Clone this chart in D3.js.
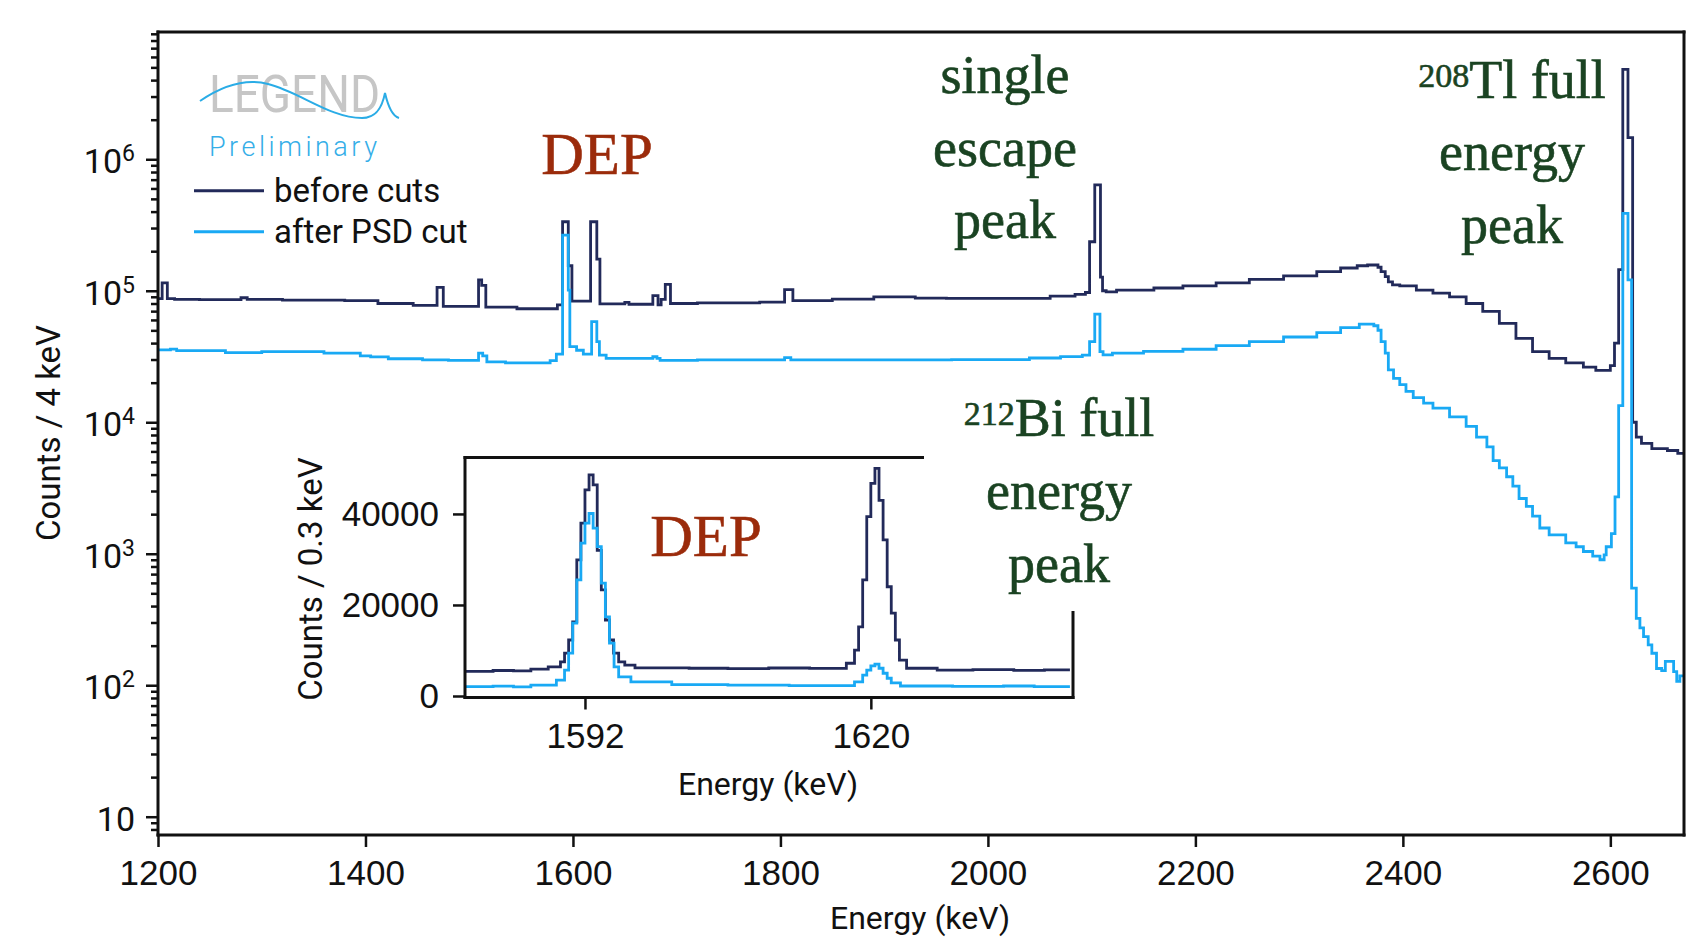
<!DOCTYPE html>
<html>
<head>
<meta charset="utf-8">
<script src="https://cdn.jsdelivr.net/npm/d3@7"></script>
<style>
  body { margin: 0; background: #fff; }
  svg { display: block; font-family: Roboto, "Noto Sans", sans-serif; }
  .serif { font-family: "Liberation Serif", "DejaVu Serif", serif; }
</style>
</head>
<body>
<svg id="chart" width="1688" height="937"></svg>
<script>
// ---- data ----
// main spectrum, counts / 4 keV, [bin start (keV), counts]
const beforeCuts = [
  [1200, 87000], [1204, 115000], [1209, 87000], [1216, 86000], [1240, 85500], [1280, 88500],
  [1286, 86000], [1320, 85000], [1380, 84000], [1412, 80000], [1446, 77500], [1469, 106000],
  [1475, 76000], [1509, 121000], [1512, 110000], [1516, 75000], [1546, 73000], [1585, 78000],
  [1590, 335000], [1595.5, 155000], [1599, 83500], [1617, 335000], [1623, 174000], [1626, 79500],
  [1650, 81500], [1654, 79000], [1677, 92000], [1682, 78000], [1685, 86000], [1689, 112000],
  [1694, 80000], [1720, 81000], [1780, 82000], [1804, 102000], [1812, 84000], [1850, 86500],
  [1890, 90000], [1930, 88000], [1960, 87500], [2060, 91000], [2084, 94000], [2094, 97000],
  [2098, 236000], [2103, 638000], [2108.5, 127000], [2110.5, 100000], [2114, 98000], [2124, 101000],
  [2160, 105000], [2188, 109000], [2220, 115000], [2252, 122000], [2285, 130000], [2317, 140000],
  [2340, 149000], [2356, 155000], [2366, 157000], [2376, 151000], [2379, 140000], [2383, 128000],
  [2386, 117000], [2390, 111000], [2397, 109000], [2413, 101000], [2429, 96000], [2445, 90000],
  [2461, 80000], [2477, 69600], [2493, 56500], [2509, 43500], [2525, 34400], [2541, 30600],
  [2557, 28300], [2574, 26300], [2586, 24800], [2600, 27000], [2604, 40000], [2608, 145000],
  [2612, 4830000], [2617, 1460000], [2621.5, 10000], [2625, 7700], [2630, 6900], [2640, 6300],
  [2655, 6100], [2665, 5800]
];
const afterPSD = [
  [1200, 35500], [1212, 36000], [1218, 35000], [1265, 33900], [1300, 34500], [1360, 33600],
  [1395, 32000], [1405, 31400], [1422, 30400], [1455, 29800], [1480, 29600], [1509, 33600],
  [1513, 32000], [1517, 28800], [1535, 28300], [1578, 29400], [1584, 33000], [1590, 265000],
  [1595.5, 101000], [1597, 37600], [1603.5, 35300], [1610, 33000], [1618, 58200], [1623, 41000],
  [1625.5, 32400], [1632, 30600], [1677, 31500], [1681, 30600], [1684, 29600], [1720, 29800],
  [1804, 31000], [1810, 29800], [1900, 29800], [1965, 29900], [2040, 30800], [2070, 31600],
  [2091, 32400], [2098, 41000], [2103, 66500], [2108, 34500], [2111, 32500], [2120, 33500],
  [2150, 34600], [2188, 35900], [2220, 38300], [2252, 41000], [2285, 44500], [2317, 48000],
  [2340, 52400], [2358, 55800], [2372, 54200], [2376, 50100], [2379, 41000], [2383, 33500],
  [2386, 25000], [2391, 21600], [2397, 19300], [2403, 17200], [2410, 15400], [2420, 14000],
  [2429, 12800], [2445, 11000], [2461, 9300], [2471, 7700], [2481, 6500], [2487, 5100],
  [2493, 4500], [2500, 3850], [2506, 3270], [2512, 2630], [2519, 2290], [2525, 1930],
  [2532, 1570], [2541, 1390], [2557, 1210], [2567, 1130], [2574, 1040], [2583, 960],
  [2590, 900], [2594, 980], [2596, 1130], [2601, 1420], [2604.5, 2710], [2608, 13400],
  [2612, 388000], [2617, 121000], [2620.5, 547], [2625, 323], [2628.5, 273], [2632, 234],
  [2636.5, 203], [2640, 175], [2644.5, 134], [2649.5, 129], [2653, 152], [2661, 127],
  [2664, 107], [2667, 118]
];
const mainEnd = 2671;

// inset, counts / 0.3 keV around the DEP and the 212Bi line
const insetBefore = [
  [1580.25, 5400], [1583, 5600], [1585, 5500], [1586.7, 5900], [1588.4, 6400], [1589.6, 7500],
  [1590.0, 9400], [1590.4, 12300], [1590.8, 16300], [1591.2, 29900], [1591.6, 38000], [1592.0, 45300],
  [1592.4, 48600], [1592.8, 46400], [1593.2, 32000], [1593.6, 23300], [1594.0, 16700], [1594.4, 12300],
  [1594.8, 9400], [1595.3, 7500], [1595.9, 6800], [1596.9, 6200], [1602.2, 6100], [1606, 6000],
  [1610, 6150], [1614, 6050], [1617.6, 7200], [1618.4, 10100], [1618.8, 15200], [1619.2, 25500],
  [1619.6, 39400], [1620.0, 46700], [1620.4, 50000], [1620.8, 43000], [1621.2, 34300], [1621.6, 24000],
  [1622.0, 18200], [1622.4, 12300], [1622.8, 7900], [1623.5, 6100], [1626.5, 5700], [1630, 5800],
  [1634, 5650], [1637, 5750]
];
const insetAfter = [
  [1580.25, 2050], [1583, 2150], [1585, 2000], [1586.7, 2400], [1589.2, 3500], [1590.0, 5700],
  [1590.4, 9400], [1590.8, 16000], [1591.2, 25500], [1591.6, 33600], [1592.0, 38000], [1592.4, 40100],
  [1592.8, 36900], [1593.2, 32800], [1593.6, 24800], [1594.0, 17400], [1594.4, 11600], [1594.85, 6400],
  [1595.3, 4200], [1596.5, 3100], [1600.5, 2500], [1606, 2400], [1612, 2300], [1618.4, 3100],
  [1619.2, 4600], [1619.6, 5700], [1620.0, 6600], [1620.4, 7000], [1620.8, 6100], [1621.2, 5000],
  [1621.6, 3900], [1622.0, 2900], [1622.9, 2200], [1628, 2100], [1633, 2200], [1636, 2050]
];
const insetEnd = 1639.5;

const mainXTicks = [1200, 1400, 1600, 1800, 2000, 2200, 2400, 2600];
const mainYTicks = [10, 100, 1000, 10000, 100000, 1000000];
const insetXTicks = [1592, 1620];
const insetYTicks = [0, 20000, 40000];

const colBefore = "#222a5a";
const colAfter = "#19a9f4";
const colDEP = "#9b2b0b";
const colNote = "#1a4322";

// ---- layout ----
const svg = d3.select("#chart");
const main = { left: 158, right: 1684, top: 32, bottom: 835 };
const ins = { left: 465, right: 1073, top: 457.5, bottom: 697.5 };

let x = d3.scaleLinear().domain([1200, mainEnd]).range([main.left, main.right]);
let y = d3.scaleLog().domain([7.26, 9.29e6]).range([main.bottom, main.top]);
let xi = d3.scaleLinear().domain([1580.25, 1639.8]).range([ins.left, ins.right]);
let yi = d3.scaleLinear().domain([-330, 52400]).range([ins.bottom, ins.top]);

function drawSpectrum(parent, xs, ys, bins, end, color) {
  let pts = bins.slice();
  pts.push([end, bins[bins.length - 1][1]]);
  let line = d3.line()
    .x(d => xs(d[0]))
    .y(d => ys(d[1]))
    .curve(d3.curveStepAfter);
  parent.append("path")
    .datum(pts)
    .attr("fill", "none")
    .attr("stroke", color)
    .attr("stroke-width", 2.8)
    .attr("d", line);
}

function styleAxis(g, fontSize) {
  g.select(".domain").remove();
  g.selectAll(".tick line").attr("stroke", "#111").attr("stroke-width", 2.5);
  g.selectAll(".tick text").attr("fill", "#111").style("font-size", fontSize + "px");
}

function frameLine(x1, y1, x2, y2) {
  svg.append("line")
    .attr("x1", x1).attr("y1", y1).attr("x2", x2).attr("y2", y2)
    .attr("stroke", "#111").attr("stroke-width", 3).attr("stroke-linecap", "square");
}

// ---- main spectrum ----
svg.append("clipPath").attr("id", "mainClip")
  .append("rect").attr("x", main.left).attr("y", main.top)
  .attr("width", main.right - main.left).attr("height", main.bottom - main.top);
let plot = svg.append("g").attr("clip-path", "url(#mainClip)");
drawSpectrum(plot, x, y, beforeCuts, mainEnd, colBefore);
drawSpectrum(plot, x, y, afterPSD, mainEnd, colAfter);

// axes
let gx = svg.append("g")
  .attr("transform", "translate(0," + main.bottom + ")")
  .call(d3.axisBottom(x).tickValues(mainXTicks).tickSize(12).tickPadding(13).tickFormat(d3.format("d")));
styleAxis(gx, 35);

let minor = y.ticks().filter(v => mainYTicks.indexOf(v) < 0);
let gyMinor = svg.append("g")
  .attr("transform", "translate(" + main.left + ",0)")
  .call(d3.axisLeft(y).tickValues(minor).tickSize(7).tickFormat(""));
styleAxis(gyMinor, 10);
let gy = svg.append("g")
  .attr("transform", "translate(" + main.left + ",0)")
  .call(d3.axisLeft(y).tickValues(mainYTicks).tickSize(12).tickFormat(""));
styleAxis(gy, 10);

mainYTicks.forEach(function (v) {
  let p = Math.round(Math.log10(v));
  let t = svg.append("text")
    .attr("x", 135)
    .attr("y", y(v) + 14)
    .attr("text-anchor", "end")
    .attr("fill", "#111")
    .style("font-size", "34px");
  t.append("tspan").text("10");
  if (p > 1) {
    t.append("tspan").attr("dy", -12).style("font-size", "23px").text(p);
  }
});

frameLine(main.left, main.top, main.right, main.top);
frameLine(main.right, main.top, main.right, main.bottom);
frameLine(main.left, main.top, main.left, main.bottom);
frameLine(main.left, main.bottom, main.right, main.bottom);

svg.append("text")
  .attr("x", 920).attr("y", 929)
  .attr("text-anchor", "middle").attr("fill", "#111")
  .style("font-size", "32px")
  .text("Energy (keV)");
svg.append("text")
  .attr("transform", "translate(60,433) rotate(-90)")
  .attr("text-anchor", "middle").attr("fill", "#111")
  .style("font-size", "33px")
  .text("Counts / 4 keV");

// ---- logo and legend ----
svg.append("text")
  .attr("x", 209).attr("y", 112)
  .attr("textLength", 171).attr("lengthAdjust", "spacingAndGlyphs")
  .attr("fill", "#c6c6c6")
  .style("font-size", "52px").style("font-weight", 400)
  .text("LEGEND");
svg.append("path")
  .attr("d", "M200,101 C222,86 245,78 268,84 C300,92 330,118 362,118 C376,118 382,108 385,93 C388,106 392,116 399,118")
  .attr("fill", "none").attr("stroke", "#2aace6").attr("stroke-width", 2);
svg.append("text")
  .attr("x", 209).attr("y", 156)
  .attr("textLength", 168).attr("lengthAdjust", "spacing")
  .attr("fill", "#35aee8")
  .style("font-size", "27px").style("font-weight", 300)
  .text("Preliminary");

let legendItems = [["before cuts", colBefore, 190.7], ["after PSD cut", colAfter, 231.7]];
legendItems.forEach(function (d) {
  svg.append("line")
    .attr("x1", 194).attr("x2", 264).attr("y1", d[2]).attr("y2", d[2])
    .attr("stroke", d[1]).attr("stroke-width", 3);
  svg.append("text")
    .attr("x", 274).attr("y", d[2] + 11)
    .attr("fill", "#111")
    .style("font-size", "33px")
    .text(d[0]);
});

// ---- annotations ----
function noteLines(cx, baselines, lines, color, size) {
  lines.forEach(function (ln, i) {
    let t = svg.append("text")
      .attr("class", "serif")
      .attr("x", cx).attr("y", baselines[i])
      .attr("text-anchor", "middle")
      .attr("fill", color)
      .attr("stroke", color)
      .attr("stroke-width", 0.6)
      .style("font-size", size + "px");
    if (Array.isArray(ln)) {
      t.append("tspan").attr("dy", -11).style("font-size", "34px").text(ln[0]);
      t.append("tspan").attr("dy", 11).text(ln[1]);
    } else {
      t.text(ln);
    }
  });
}

noteLines(597, [174], ["DEP"], colDEP, 59);
noteLines(1005, [93, 166, 238], ["single", "escape", "peak"], colNote, 54);
noteLines(1512, [98, 170, 243], [["208", "Tl full"], "energy", "peak"], colNote, 54);

// ---- inset ----
svg.append("rect")
  .attr("x", ins.left).attr("y", ins.top)
  .attr("width", ins.right - ins.left).attr("height", ins.bottom - ins.top)
  .attr("fill", "#fff");
let insPlot = svg.append("g");
drawSpectrum(insPlot, xi, yi, insetBefore, insetEnd, colBefore);
drawSpectrum(insPlot, xi, yi, insetAfter, insetEnd, colAfter);

let gxi = svg.append("g")
  .attr("transform", "translate(0," + ins.bottom + ")")
  .call(d3.axisBottom(xi).tickValues(insetXTicks).tickSize(12).tickPadding(13.5).tickFormat(d3.format("d")));
styleAxis(gxi, 35);
let gyi = svg.append("g")
  .attr("transform", "translate(" + ins.left + ",0)")
  .call(d3.axisLeft(yi).tickValues(insetYTicks).tickSize(12).tickPadding(14).tickFormat(d3.format("d")));
styleAxis(gyi, 35);

frameLine(ins.left, ins.top, ins.right, ins.top);
frameLine(ins.right, ins.top, ins.right, ins.bottom);
frameLine(ins.left, ins.top, ins.left, ins.bottom);
frameLine(ins.left, ins.bottom, ins.right, ins.bottom);

svg.append("text")
  .attr("x", 768).attr("y", 795)
  .attr("text-anchor", "middle").attr("fill", "#111")
  .style("font-size", "32px")
  .text("Energy (keV)");
svg.append("text")
  .attr("transform", "translate(322,579) rotate(-90)")
  .attr("text-anchor", "middle").attr("fill", "#111")
  .style("font-size", "33px")
  .text("Counts / 0.3 keV");

noteLines(706, [556], ["DEP"], colDEP, 59);

// white box behind the 212Bi label covers the inset corner
svg.append("rect")
  .attr("x", 924).attr("y", 385)
  .attr("width", 270).attr("height", 226)
  .attr("fill", "#fff");
noteLines(1059, [436, 509, 582], [["212", "Bi full"], "energy", "peak"], colNote, 54);
</script>
</body>
</html>
